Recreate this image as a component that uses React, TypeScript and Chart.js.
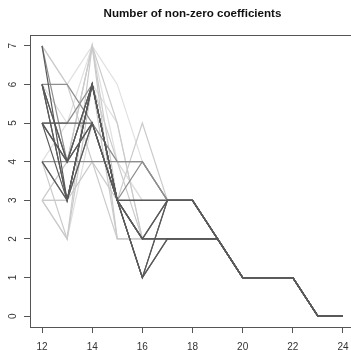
import { useEffect, useRef } from 'react';
import { Chart, registerables } from 'chart.js';

Chart.register(...registerables);

const titleText = 'Number of non-zero coefficients';
const xValues = [12, 13, 14, 15, 16, 17, 18, 19, 20, 21, 22, 23, 24];
const xTicks = [12, 14, 16, 18, 20, 22, 24];
const yTicks = [0, 1, 2, 3, 4, 5, 6, 7];

const darkPaths: (number | null)[][] = [
  [7, 3, 6, 3, 1, 3, 3, 2, 1, 1, 1, 0, 0],
  [6, 4, 6, 3, 2, 3, 3, 2, 1, 1, 1, 0, 0],
  [6, 3, 5, 3, 1, 2, 2, 2, 1, 1, 1, 0, 0],
  [5, 4, 5, 3, 3, 3, 3, 2, 1, 1, 1, 0, 0],
  [5, 3, 6, 3, 2, 2, 2, 2, 1, 1, 1, 0, 0],
  [5, 5, 5, 3, 1, 3, 3, 2, 1, 1, 1, 0, 0],
  [4, 3, 6, 3, 3, 3, 3, 2, 1, 1, 1, 0, 0],
  [6, 3, 6, 3, 1, 2, 2, 2, 1, 1, 1, 0, 0],
  [5, 4, 6, 3, 2, 3, 3, 2, 1, 1, 1, 0, 0],
  [6, 4, 5, 3, 2, 2, 2, 2, 1, 1, 1, 0, 0],
];

const mediumPaths: (number | null)[][] = [
  [6, 6, 5, 3, 2, 2, 2, 2, 1, 1, 1, 0, 0],
  [4, 4, 4, 4, 4, 3, 3, 2, 1, 1, 1, 0, 0],
  [7, 4, 6, 3, 4, 3, 3, 2, 1, 1, 1, 0, 0],
  [4, 3, 5, 4, 4, 3, 3, 2, 1, 1, 1, 0, 0],
  [5, 5, 6, 3, 3, 3, 3, 2, 1, 1, 1, 0, 0],
];

const lightPaths: (number | null)[][] = [
  [3, 2, 7, 3, 5, 3, null, null, null, null, null, null, null],
  [3, 4, 7, 2, 2, null, null, null, null, null, null, null, null],
  [7, 6, 4, 2, 2, null, null, null, null, null, null, null, null],
  [4, 2, 6, 2, null, null, null, null, null, null, null, null, null],
  [3, 3, 6, 4, 2, null, null, null, null, null, null, null, null],
  [3, 3, 4, 3, 2, null, null, null, null, null, null, null, null],
  [5, 4, 7, 5, 2, null, null, null, null, null, null, null, null],
];

const faintPaths: (number | null)[][] = [
  [7, 6, 7, 4, 3, null, null, null, null, null, null, null, null],
  [4, 5, 6, 5, 2, null, null, null, null, null, null, null, null],
  [6, 5, 7, 6, 4, null, null, null, null, null, null, null, null],
  [3, 2, 5, 4, 3, null, null, null, null, null, null, null, null],
];

export default function App() {
  const ref = useRef<HTMLCanvasElement>(null);

  useEffect(() => {
    if (!ref.current) return;
    const toData = (p: (number | null)[]) =>
      p
        .map((y, i) => (y === null ? null : { x: xValues[i], y }))
        .filter((d) => d !== null) as { x: number; y: number }[];

    const groups = [
      { paths: darkPaths, color: '#595959' },
      { paths: mediumPaths, color: '#8e8e8e' },
      { paths: lightPaths, color: '#cacaca' },
      { paths: faintPaths, color: '#e0e0e0' },
    ];
    const datasets = groups.flatMap((g) =>
      g.paths.map((p) => ({
        data: toData(p),
        borderColor: g.color,
        backgroundColor: g.color,
        borderWidth: 1.2,
        pointRadius: 0,
        fill: false,
        tension: 0,
      }))
    );

    const framePlugin = {
      id: 'frame',
      afterDraw(chart: any) {
        const { ctx, chartArea } = chart;
        const { left, right, top, bottom } = chartArea;
        ctx.save();
        ctx.strokeStyle = '#555';
        ctx.lineWidth = 1;
        ctx.strokeRect(left + 0.5, top + 0.5, right - left - 1, bottom - top);
        // y labels rotated
        const ys = chart.scales.y;
        ctx.fillStyle = '#333';
        ctx.font = '10px "Liberation Sans", Arial, sans-serif';
        ctx.textAlign = 'center';
        ctx.textBaseline = 'middle';
        for (const v of yTicks) {
          const py = ys.getPixelForValue(v);
          ctx.save();
          ctx.translate(13, py);
          ctx.rotate(-Math.PI / 2);
          ctx.fillText(String(v), 0, 0);
          ctx.restore();
        }
        // title
        ctx.fillStyle = '#111';
        ctx.font = 'bold 11.6px "Liberation Sans", Arial, sans-serif';
        ctx.textAlign = 'center';
        ctx.textBaseline = 'alphabetic';
        ctx.fillText(titleText, (left + right) / 2, 17);
        ctx.restore();
      },
    };

    const chart = new Chart(ref.current, {
      type: 'line',
      data: { datasets } as any,
      options: {
        animation: false,
        responsive: false,
        devicePixelRatio: 1,
        layout: { padding: { top: 35, right: 5, left: 0, bottom: 0 } },
        plugins: {
          legend: { display: false },
          tooltip: { enabled: false },
          title: { display: false },
        },
        scales: {
          x: {
            type: 'linear',
            min: 11.52,
            max: 24.48,
            afterBuildTicks: (s: any) => {
              s.ticks = xTicks.map((v) => ({ value: v }));
            },
            afterFit: (s: any) => {
              s.height = 23;
            },
            grid: {
              display: true,
              drawOnChartArea: false,
              drawTicks: true,
              tickLength: 6,
              color: '#555',
              lineWidth: 1,
            },
            border: { display: false },
            ticks: {
              font: { family: '"Liberation Sans", Arial, sans-serif', size: 10 },
              color: '#333',
              padding: 8,
              maxRotation: 0,
              minRotation: 0,
              autoSkip: false,
            },
          },
          y: {
            type: 'linear',
            min: -0.28,
            max: 7.28,
            afterBuildTicks: (s: any) => {
              s.ticks = yTicks.map((v) => ({ value: v }));
            },
            afterFit: (s: any) => {
              s.width = 30;
            },
            grid: {
              display: true,
              drawOnChartArea: false,
              drawTicks: true,
              tickLength: 6,
              color: '#555',
              lineWidth: 1,
            },
            border: { display: false },
            ticks: { display: false },
          },
        },
      } as any,
      plugins: [framePlugin],
    });
    return () => chart.destroy();
  }, []);

  return (
    <div
      style={{
        position: 'fixed',
        left: 0,
        top: 0,
        width: 351,
        height: 350,
        overflow: 'hidden',
        background: '#fff',
      }}
    >
      <canvas ref={ref} width={360} height={350} style={{ display: 'block' }} />
    </div>
  );
}
